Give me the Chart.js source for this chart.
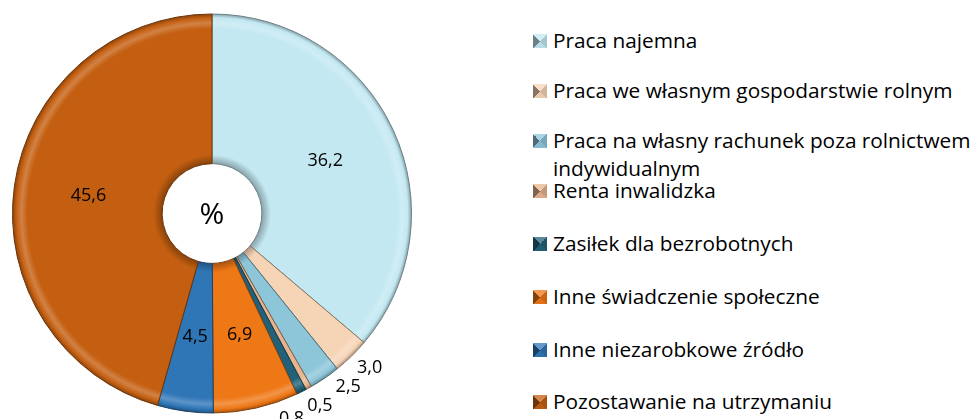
<!DOCTYPE html>
<html><head><meta charset="utf-8">
<script src="https://cdn.jsdelivr.net/npm/chart.js@4/dist/chart.umd.min.js"></script>
<style>
html,body{margin:0;padding:0;background:#fff;}
#wrap{position:relative;width:974px;height:419px;overflow:hidden;font-family:"Open Sans",Lato,sans-serif;}
#chartBox{position:absolute;left:0;top:0;width:430px;height:419px;}
#legend{position:absolute;left:533px;top:0;width:441px;height:419px;}
.item{position:absolute;left:0;display:flex;align-items:flex-start;font-size:20.8px;line-height:28px;color:#000;}
.item .txt{width:440px;}
.sw{width:14px;height:14px;margin-top:8px;margin-right:6px;flex:none;}
.item:nth-child(1){top:26px}
.item:nth-child(2){top:76px}
.item:nth-child(3){top:126px}
.item:nth-child(4){top:176px}
.item:nth-child(5){top:229px}
.item:nth-child(6){top:282px}
.item:nth-child(7){top:335px}
.item:nth-child(8){top:387px}
</style></head>
<body><div id="wrap"><div id="chartBox"><canvas id="c"></canvas></div><div id="legend"></div></div>
<script>
const categories = [
  'Praca najemna',
  'Praca we własnym gospodarstwie rolnym',
  'Praca na własny rachunek poza rolnictwem indywidualnym',
  'Renta inwalidzka',
  'Zasiłek dla bezrobotnych',
  'Inne świadczenie społeczne',
  'Inne niezarobkowe źródło',
  'Pozostawanie na utrzymaniu'
];
const values = [36.2, 3.0, 2.5, 0.5, 0.8, 6.9, 4.5, 45.6];
const colors = ['#C3E8F2', '#F6D4B6', '#8DC5D9', '#E6B48E', '#21627A', '#EE7716', '#2F76B7', '#C45F11'];
const centerLabel = '%';

function shade(hex, f) {
  const n = parseInt(hex.slice(1), 16);
  let r = (n >> 16) & 255, g = (n >> 8) & 255, b = n & 255;
  if (f >= 0) { r += (255 - r) * f; g += (255 - g) * f; b += (255 - b) * f; }
  else { r *= 1 + f; g *= 1 + f; b *= 1 + f; }
  return 'rgb(' + Math.round(r) + ',' + Math.round(g) + ',' + Math.round(b) + ')';
}
const fmt = v => v.toFixed(1).replace('.', ',');

// legend (HTML text)
const lg = document.getElementById('legend');
categories.forEach((c, i) => {
  const d = document.createElement('div');
  d.className = 'item';
  const col = colors[i];
  d.innerHTML = '<span class="sw" style="background:conic-gradient(from -45deg,' +
    shade(col, 0.25) + ' 0 25%,' + shade(col, -0.15) + ' 25% 50%,' + shade(col, -0.05) + ' 50% 75%,' +
    shade(col, -0.45) + ' 75% 100%)"></span><span class="txt"></span>';
  d.querySelector('.txt').textContent = c;
  lg.appendChild(d);
});

function bg(ctx) {
  const i = ctx.dataIndex;
  const base = colors[i];
  const chart = ctx.chart;
  const el = ctx.element;
  if (!chart.chartArea || !el || !el.outerRadius) return base;
  const { x, y, innerRadius, outerRadius } = el.getProps(['x', 'y', 'innerRadius', 'outerRadius'], true);
  const g = chart.ctx.createRadialGradient(x, y, innerRadius, x, y, outerRadius);
  g.addColorStop(0, shade(base, -0.3));
  g.addColorStop(0.06, base);
  g.addColorStop(0.90, base);
  g.addColorStop(0.94, shade(base, 0.22));
  g.addColorStop(0.975, base);
  g.addColorStop(1, shade(base, -0.3));
  return g;
}

const labelPlugin = {
  id: 'sliceLabels',
  afterDatasetsDraw(chart) {
    const ctx = chart.ctx;
    const meta = chart.getDatasetMeta(0);
    ctx.save();
    ctx.font = '18px "Open Sans", Lato, sans-serif';
    ctx.fillStyle = '#000';
    ctx.textAlign = 'center';
    ctx.textBaseline = 'middle';
    const outside = [];
    meta.data.forEach((arc, i) => {
      const p = arc.getProps(['x', 'y', 'startAngle', 'endAngle', 'innerRadius', 'outerRadius'], true);
      const a = (p.startAngle + p.endAngle) / 2;
      const v = values[i];
      const txt = fmt(v);
      if (v >= 4) {
        const r = (p.innerRadius + p.outerRadius) / 2;
        ctx.fillText(txt, p.x + Math.cos(a) * r, p.y + Math.sin(a) * r);
      } else {
        outside.push({ txt, a, cx: p.x, cy: p.y, r: p.outerRadius + 21, w: ctx.measureText(txt).width });
      }
    });
    const pos = o => [o.cx + Math.cos(o.a) * o.r, o.cy + Math.sin(o.a) * o.r];
    outside.sort((m, n) => m.a - n.a);
    for (let it = 0; it < 300; it++) {
      let moved = false;
      for (let k = 0; k + 1 < outside.length; k++) {
        const A = outside[k], B = outside[k + 1];
        const [ax, ay] = pos(A), [bx, by] = pos(B);
        if (Math.abs(ax - bx) < (A.w + B.w) / 2 + 3 && Math.abs(ay - by) < 19) {
          A.a -= 0.002; B.a += 0.002; moved = true;
        }
      }
      if (!moved) break;
    }
    outside.forEach(o => { const [x, y] = pos(o); ctx.fillText(o.txt, x, y); });
    const c = meta.data[0];
    ctx.font = '30px "Open Sans", Lato, sans-serif';
    ctx.fillText(centerLabel, c.x, c.y + 2);
    ctx.restore();
  }
};

const chart = new Chart(document.getElementById('c'), {
  type: 'doughnut',
  data: {
    labels: categories,
    datasets: [{
      data: values,
      backgroundColor: bg,
      borderColor: values.map((v, i) => shade(colors[i], -0.45)),
      borderWidth: 1
    }]
  },
  options: {
    responsive: true,
    maintainAspectRatio: false,
    animation: false,
    cutout: '25%',
    layout: { padding: { top: 13, bottom: 5, left: 12, right: 18 } },
    plugins: { legend: { display: false }, tooltip: { enabled: false } }
  },
  plugins: [labelPlugin]
});
chart.update('none');
</script>
</body></html>
